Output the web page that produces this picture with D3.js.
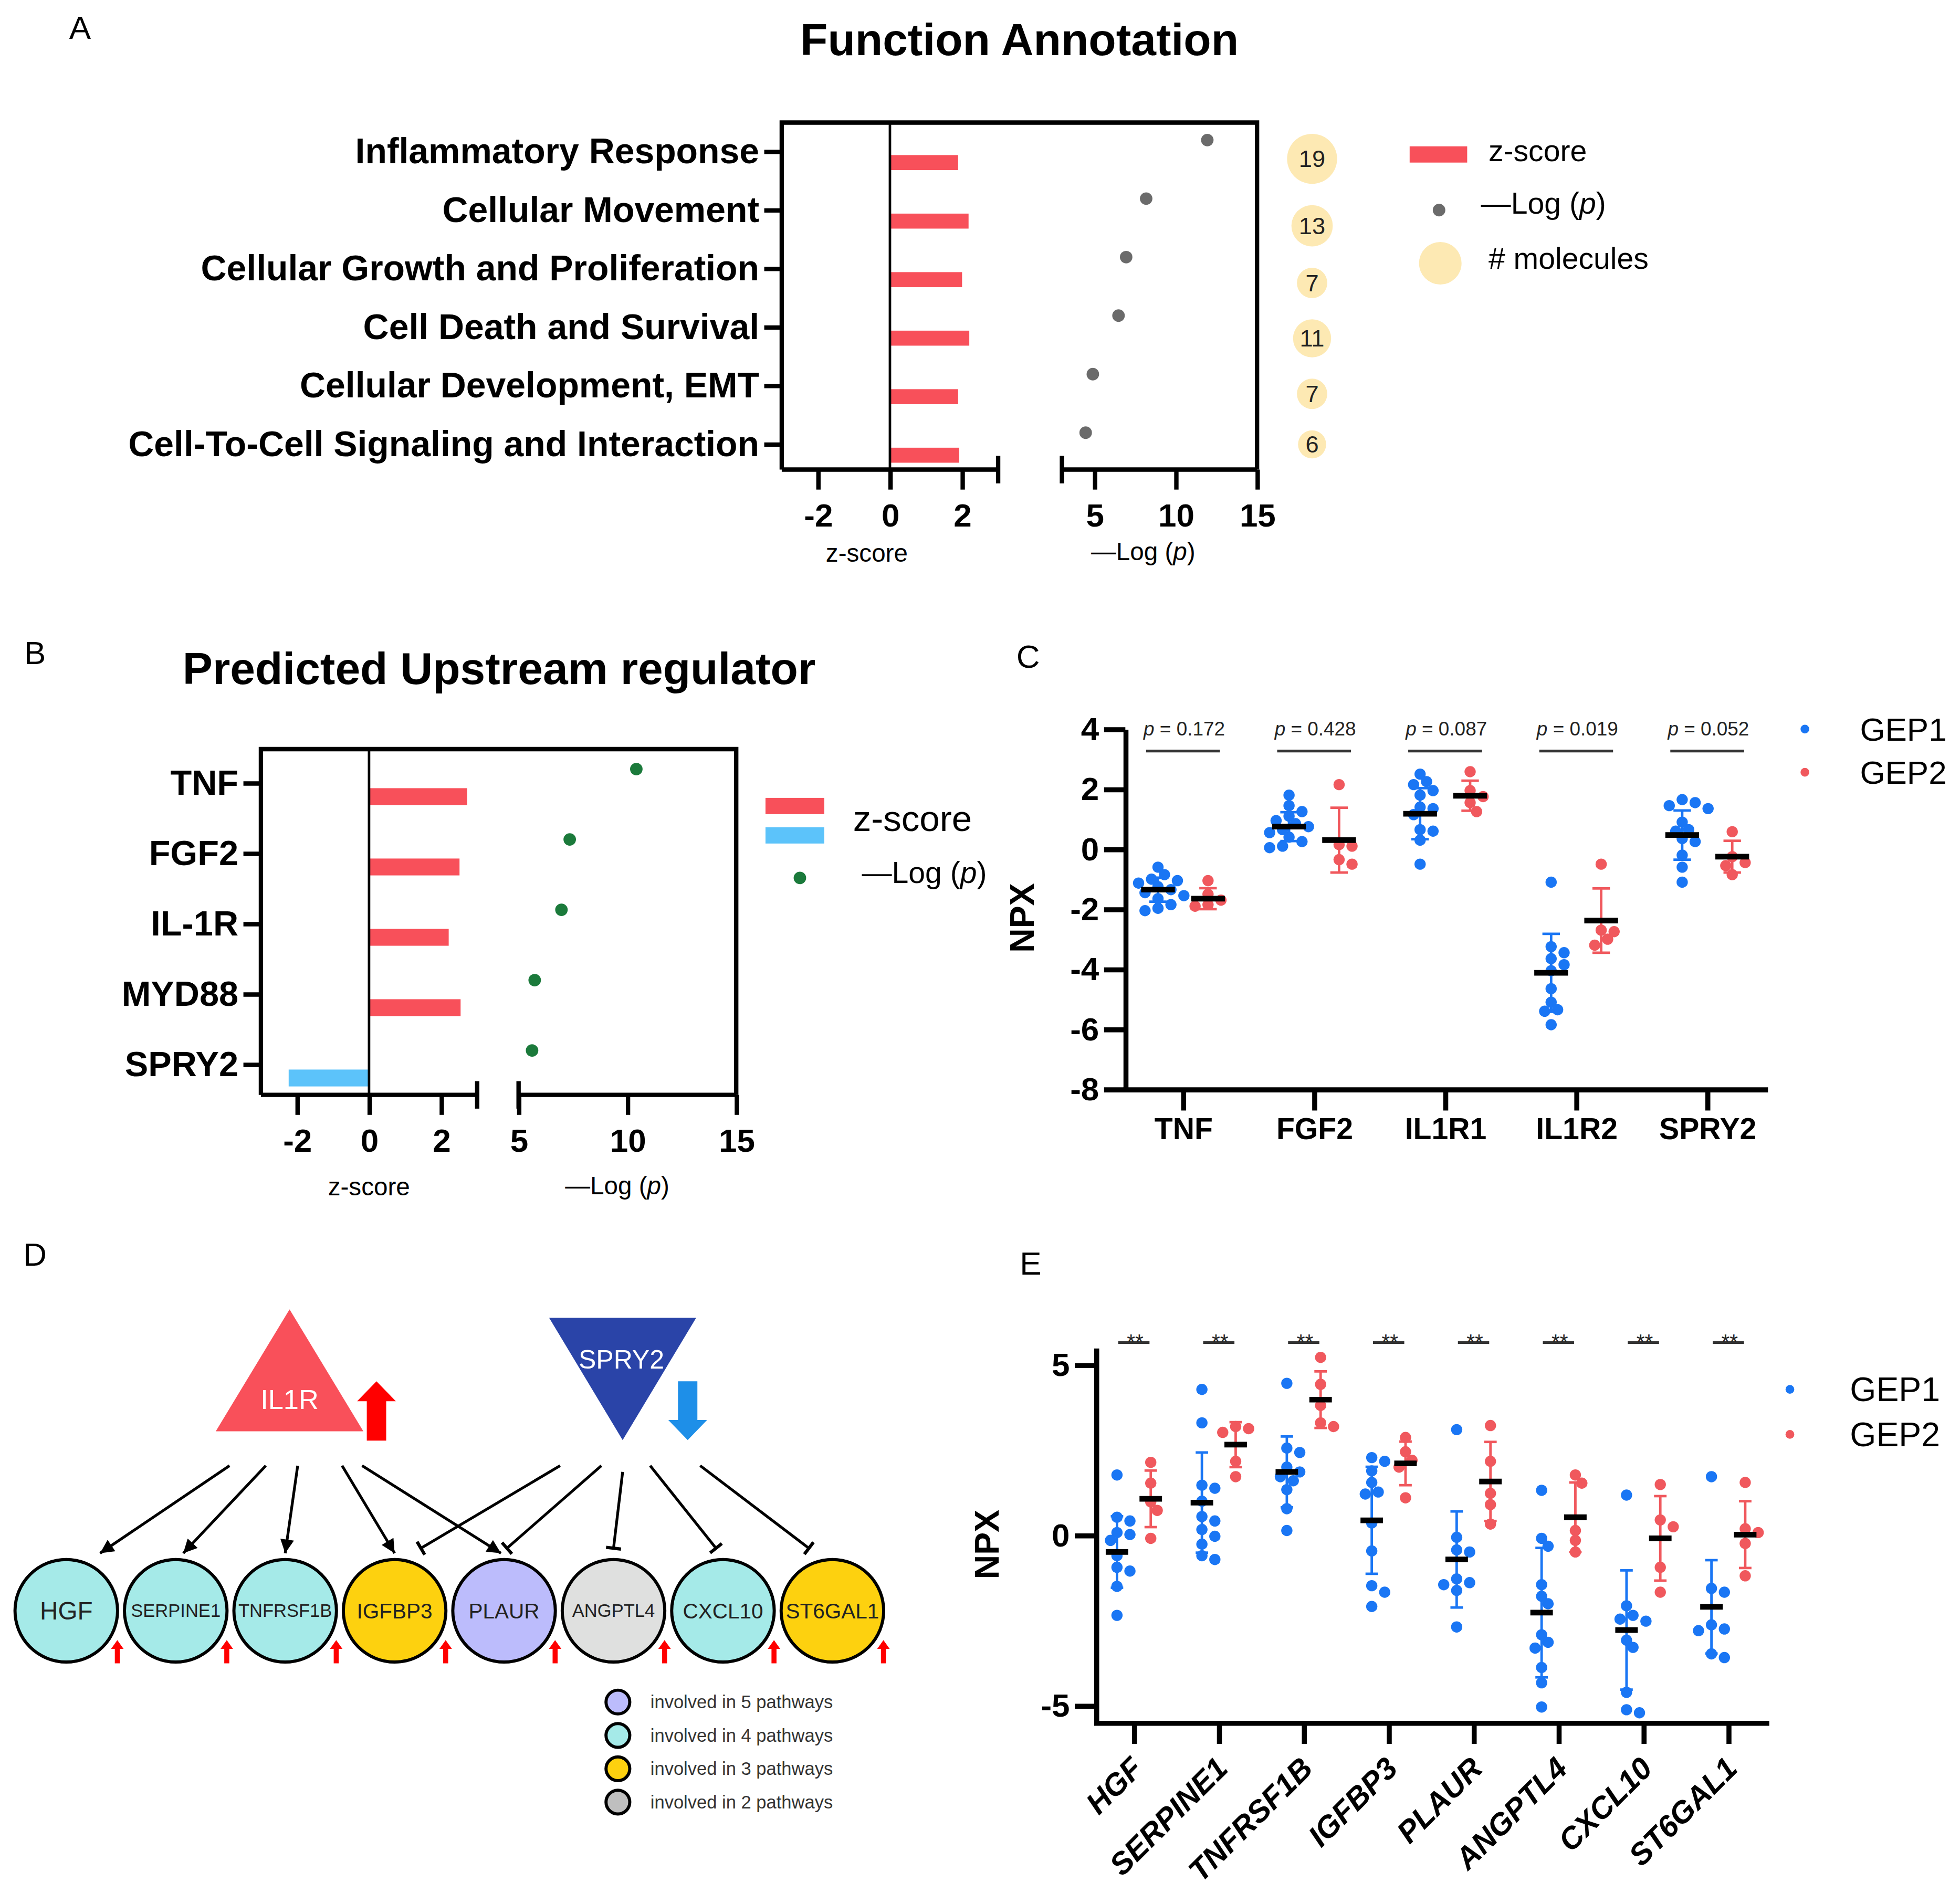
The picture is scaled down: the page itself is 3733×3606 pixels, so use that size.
<!DOCTYPE html>
<html>
<head>
<meta charset="utf-8">
<script src="https://cdn.jsdelivr.net/npm/d3@7"></script>
<style>
  body { margin: 0; background: #fff; }
  svg { display: block; font-family: "Liberation Sans", Arial, Helvetica, sans-serif; }
</style>
</head>
<body>
<svg id="figure"></svg>
<script>
// ---- panel A data
const functionCategories = ["Inflammatory Response", "Cellular Movement", "Cellular Growth and Proliferation",
  "Cell Death and Survival", "Cellular Development, EMT", "Cell-To-Cell Signaling and Interaction"];
const functionZ = [1.89, 2.18, 2.0, 2.2, 1.89, 1.92];
const functionLogP = [11.94, 8.18, 6.95, 6.48, 4.9, 4.46];
const functionMolecules = [19, 13, 7, 11, 7, 6];

// ---- panel B data
const regulatorNames = ["TNF", "FGF2", "IL-1R", "MYD88", "SPRY2"];
const regulatorZ = [2.72, 2.51, 2.21, 2.54, -2.23];
const regulatorLogP = [10.41, 7.35, 6.97, 5.74, 5.62];

// ---- panel C data
const npxGenes = ["TNF", "FGF2", "IL1R1", "IL1R2", "SPRY2"];
const npxPValues = ["0.172", "0.428", "0.087", "0.019", "0.052"];
const npxGep1 = [
  [-0.6, -0.85, -1.0, -1.05, -1.13, -1.25, -1.35, -1.45, -1.55, -1.65, -1.85, -1.97, -2.05],
  [1.8, 1.45, 1.25, 1.1, 0.95, 0.85, 0.75, 0.65, 0.55, 0.4, 0.25, 0.1, 0.05],
  [2.5, 2.25, 2.15, 1.95, 1.8, 1.4, 1.35, 1.15, 0.65, 0.6, 0.3, -0.5],
  [-1.1, -3.25, -3.45, -3.65, -3.85, -4.05, -4.65, -5.1, -5.35, -5.4, -5.85],
  [1.65, 1.55, 1.45, 1.35, 0.9, 0.65, 0.6, 0.35, 0.25, -0.2, -0.6, -1.1]
];
const npxGep2 = [
  [-1.05, -1.5, -1.7, -1.85, -1.9],
  [2.15, 0.15, 0.1, -0.35, -0.5],
  [2.58, 1.95, 1.75, 1.55, 1.25],
  [-0.5, -2.7, -2.75, -3.0, -3.2],
  [0.58, -0.25, -0.45, -0.55, -0.85]
];
const npxGep1Mean = [-1.35, 0.75, 1.18, -4.12, 0.47];
const npxGep1Sd = [0.4, 0.48, 0.85, 1.3, 0.82];
const npxGep2Mean = [-1.65, 0.3, 1.78, -2.38, -0.25];
const npxGep2Sd = [0.35, 1.08, 0.5, 1.07, 0.53];

// ---- panel D data
const targetGenes = ["HGF", "SERPINE1", "TNFRSF1B", "IGFBP3", "PLAUR", "ANGPTL4", "CXCL10", "ST6GAL1"];
const targetPathways = [4, 4, 4, 3, 5, 2, 4, 3];
const il1rTargets = ["HGF", "SERPINE1", "TNFRSF1B", "IGFBP3", "PLAUR"];
const spry2Targets = ["IGFBP3", "PLAUR", "ANGPTL4", "CXCL10", "ST6GAL1"];
const legendPathways = [5, 4, 3, 2];

// ---- panel E data
const markerGenes = ["HGF", "SERPINE1", "TNFRSF1B", "IGFBP3", "PLAUR", "ANGPTL4", "CXCL10", "ST6GAL1"];
const markerGep1 = [
  [1.77, 0.53, 0.42, 0.08, 0.02, -0.15, -0.6, -0.94, -1.05, -1.5, -2.35],
  [4.28, 3.3, 1.47, 1.38, 1.0, 0.55, 0.42, 0.17, -0.03, -0.26, -0.6, -0.71],
  [4.46, 2.56, 2.43, 2.0, 1.86, 1.72, 1.6, 1.34, 0.78, 0.14],
  [2.28, 2.17, 1.89, 1.55, 1.27, 1.21, 0.36, -0.46, -1.48, -1.67, -2.09],
  [3.1, -0.06, -0.43, -0.49, -1.28, -1.39, -1.45, -1.62, -2.69],
  [1.32, -0.09, -0.32, -1.45, -1.79, -2.01, -2.92, -3.14, -3.31, -3.88, -4.33, -5.04],
  [1.18, -2.07, -2.35, -2.46, -2.52, -3.08, -3.29, -4.61, -5.12, -5.21],
  [1.72, -1.56, -1.67, -2.63, -2.75, -2.8, -3.48, -3.59]
];
const markerGep2 = [
  [2.14, 1.53, 0.98, 0.73, -0.09],
  [3.19, 3.13, 3.02, 2.17, 1.72],
  [5.22, 4.43, 3.81, 3.3, 3.19],
  [2.87, 2.45, 2.2, 2.0, 1.1],
  [3.22, 2.17, 1.23, 0.9, 0.33],
  [1.77, 1.53, 0.14, -0.15, -0.49],
  [1.49, 0.45, 0.25, -0.94, -1.67],
  [1.55, 0.19, 0.08, -0.24, -1.19]
];
const markerGep1Mean = [-0.49, 0.96, 1.86, 0.44, -0.71, -2.27, -2.78, -2.1];
const markerGep1Sd = [1.05, 1.47, 1.04, 1.57, 1.41, 1.9, 1.75, 1.37];
const markerGep2Mean = [1.07, 2.66, 3.98, 2.11, 1.58, 0.53, -0.09, 0.02];
const markerGep2Sd = [0.83, 0.66, 0.83, 0.64, 1.16, 1.02, 1.24, 0.98];
const markerSignif = ["**", "**", "**", "**", "**", "**", "**", "**"];

const groupNames = ["GEP1", "GEP2"];

// ---- colours
const RED_BAR = "#f8505a";
const SKY_BAR = "#5cc3fa";
const BLUE = "#1a76f4";
const RED = "#f0585d";
const pathwayColor = { 5: "#bcbcfc", 4: "#a5eae8", 3: "#fdd10f", 2: "#dfe0df" };
const legendPathwayColor = { 5: "#bcbcfc", 4: "#a5eae8", 3: "#fdd10f", 2: "#bfbfbf" };

const W = 3733, H = 3606, S = 3733 / 1567;
const svg = d3.select("#figure")
  .attr("width", W).attr("height", H)
  .attr("viewBox", `0 0 ${W / S} ${H / S}`);

const fmt = d => String(d);

function styleAxis(g, size, weight, stroke) {
  g.attr("font-family", null).attr("font-size", size).attr("font-weight", weight);
  g.selectAll(".tick line").attr("stroke", "#000").attr("stroke-width", stroke);
  g.selectAll(".tick text").attr("fill", "#000");
  g.select(".domain").attr("stroke", "#000").attr("stroke-width", stroke);
}

function logTitle(sel) {
  sel.append("tspan").text("\u2014Log (");
  sel.append("tspan").attr("font-style", "italic").text("p");
  sel.append("tspan").text(")");
}

function panelLetter(letter, x, y) {
  svg.append("text").attr("x", x).attr("y", y).attr("font-size", 26).attr("text-anchor", "middle").text(letter);
}

// beeswarm offsets so points of a group don't sit on top of each other
function swarm(pys, r) {
  const placed = [];
  const step = r * 1.15;
  return pys.map(py => {
    for (let k = 0; k < 14; k++) {
      const dx = (k % 2 ? 1 : -1) * Math.ceil(k / 2) * step;
      if (placed.every(p => Math.hypot(p[0] - dx, p[1] - py) >= r * 1.7)) {
        placed.push([dx, py]);
        return dx;
      }
    }
    placed.push([0, py]);
    return 0;
  });
}

// ---------- A & B: z-score bars + -log(p) dots
function drawEnrichment(o) {
  const g = svg.append("g");
  const xz = d3.scaleLinear().domain([-3, 3]).range(o.zRange);
  const xp = d3.scaleLinear().domain(o.pDomain).range(o.pRange);
  const y = d3.scalePoint().domain(o.categories).range(o.yRange);
  const left = o.zRange[0], right = o.pRange[1];

  g.append("text").attr("x", o.titleX).attr("y", o.titleY).attr("text-anchor", "middle")
    .attr("font-size", 36).attr("font-weight", "bold").text(o.title);

  g.append("path")
    .attr("d", `M${left},${o.bottom}V${o.top}H${right}V${o.bottom}`)
    .attr("fill", "none").attr("stroke", "#000").attr("stroke-width", 3.5);

  const axZ = g.append("g").attr("transform", `translate(0,${o.bottom})`)
    .call(d3.axisBottom(xz).tickValues([-2, 0, 2]).tickFormat(fmt).tickSize(o.tickLen).tickPadding(o.tickPad))
    .call(styleAxis, 26, "bold", 3.5);
  axZ.select(".domain").remove();
  const axP = g.append("g").attr("transform", `translate(0,${o.bottom})`)
    .call(d3.axisBottom(xp).tickValues([5, 10, 15]).tickFormat(fmt).tickSize(o.tickLen).tickPadding(o.tickPad))
    .call(styleAxis, 26, "bold", 3.5);
  axP.select(".domain").remove();

  [[xz.range()[0], xz.range()[1]], [xp.range()[0], xp.range()[1]]].forEach(r => {
    g.append("line").attr("x1", r[0]).attr("x2", r[1]).attr("y1", o.bottom).attr("y2", o.bottom)
      .attr("stroke", "#000").attr("stroke-width", 3.5);
  });
  [xz(3), xp(o.pDomain[0])].forEach(cx => {
    g.append("line").attr("x1", cx).attr("x2", cx).attr("y1", o.bottom - 11).attr("y2", o.bottom + 11)
      .attr("stroke", "#000").attr("stroke-width", 3.5);
  });

  const axY = g.append("g").attr("transform", `translate(${left},0)`)
    .call(d3.axisLeft(y).tickSize(14).tickPadding(4))
    .call(styleAxis, o.labelSize, "bold", 3.5);
  axY.select(".domain").remove();

  g.selectAll(".zbar").data(o.categories).join("rect")
    .attr("x", (d, i) => Math.min(xz(0), xz(o.z[i])))
    .attr("width", (d, i) => Math.abs(xz(o.z[i]) - xz(0)))
    .attr("y", d => y(d) + o.barOffset - o.barH / 2)
    .attr("height", o.barH)
    .attr("fill", (d, i) => o.z[i] >= 0 ? RED_BAR : SKY_BAR);

  g.append("line").attr("x1", xz(0)).attr("x2", xz(0)).attr("y1", o.top).attr("y2", o.bottom)
    .attr("stroke", "#000").attr("stroke-width", 2);

  g.selectAll(".pdot").data(o.categories).join("circle")
    .attr("cx", (d, i) => xp(o.logp[i]))
    .attr("cy", d => y(d) + o.dotOffset)
    .attr("r", 5)
    .attr("fill", o.dotColor);

  g.append("text").attr("x", o.zTitle[0]).attr("y", o.zTitle[1]).attr("text-anchor", "middle")
    .attr("font-size", 20).text("z-score");
  g.append("text").attr("x", o.pTitle[0]).attr("y", o.pTitle[1]).attr("text-anchor", "middle")
    .attr("font-size", 20).call(logTitle);
  return { y };
}

// ---------- C & E: NPX scatter with mean ± SD
function drawNpx(o) {
  const g = svg.append("g");
  const x = d3.scalePoint().domain(o.genes).range(o.xRange).padding(o.padding);
  const y = d3.scaleLinear().domain(o.yDomain).range(o.yRange);

  g.append("g").attr("transform", `translate(${o.xRange[0]},0)`)
    .call(d3.axisLeft(y).tickValues(o.yTicks).tickFormat(fmt).tickSize(17).tickPadding(4).tickSizeOuter(0))
    .call(styleAxis, 26, "bold", 4);
  const xa = g.append("g").attr("transform", `translate(0,${o.yRange[0]})`)
    .call(d3.axisBottom(x).tickSize(17).tickPadding(6).tickSizeOuter(0))
    .call(styleAxis, o.xLabelSize, "bold", 4);
  xa.select(".domain").attr("stroke-linecap", "square");
  if (o.rotate) {
    xa.selectAll(".tick text")
      .attr("x", 0).attr("y", 0).attr("dy", "0.35em")
      .attr("text-anchor", "end").attr("font-style", "italic")
      .attr("transform", `translate(${o.rotate[0]},${o.rotate[1]}) rotate(-45)`);
  }

  g.append("text")
    .attr("transform", `translate(${o.npxPos[0]},${o.npxPos[1]}) rotate(-90)`)
    .attr("text-anchor", "middle").attr("dy", "0.35em")
    .attr("font-size", 27).attr("font-weight", "bold").text("NPX");

  const groups = [
    { vals: o.gep1, mean: o.mean1, sd: o.sd1, dx: -o.offset, color: BLUE },
    { vals: o.gep2, mean: o.mean2, sd: o.sd2, dx: o.offset, color: RED }
  ];
  groups.forEach(grp => {
    o.genes.forEach((gene, i) => {
      const cx = x(gene) + grp.dx;
      const vals = grp.vals[i];
      const offs = swarm(vals.map(v => y(v)), o.r);
      const gg = g.append("g");
      gg.selectAll("circle").data(vals).join("circle")
        .attr("cx", (v, j) => cx + offs[j])
        .attr("cy", v => y(v))
        .attr("r", o.r)
        .attr("fill", grp.color);
      const hi = y(grp.mean[i] + grp.sd[i]), lo = y(grp.mean[i] - grp.sd[i]);
      gg.append("line").attr("x1", cx).attr("x2", cx).attr("y1", hi).attr("y2", lo)
        .attr("stroke", grp.color).attr("stroke-width", 2);
      [hi, lo].forEach(yy => gg.append("line")
        .attr("x1", cx - o.capHalf).attr("x2", cx + o.capHalf).attr("y1", yy).attr("y2", yy)
        .attr("stroke", grp.color).attr("stroke-width", 2));
      gg.append("line")
        .attr("x1", cx - o.meanHalf).attr("x2", cx + o.meanHalf)
        .attr("y1", y(grp.mean[i])).attr("y2", y(grp.mean[i]))
        .attr("stroke", "#000").attr("stroke-width", 4.5);
    });
  });

  // comparison brackets
  o.genes.forEach((gene, i) => {
    g.append("line").attr("x1", x(gene) - o.bracketHalf).attr("x2", x(gene) + o.bracketHalf)
      .attr("y1", o.bracketY).attr("y2", o.bracketY)
      .attr("stroke", "#333").attr("stroke-width", 2.2);
    const t = g.append("text").attr("x", x(gene) + 1).attr("y", o.labelY)
      .attr("text-anchor", "middle").attr("font-size", o.labelSize).attr("fill", "#222");
    if (o.pValues) {
      t.append("tspan").attr("font-style", "italic").text("p");
      t.append("tspan").text(" = " + o.pValues[i]);
    } else {
      t.text(o.signif[i]);
    }
  });

  // legend
  const ly = d3.scalePoint().domain(groupNames).range(o.legendY);
  groupNames.forEach((name, k) => {
    g.append("circle").attr("cx", o.legendX[0]).attr("cy", ly(name)).attr("r", 3.5)
      .attr("fill", k === 0 ? BLUE : RED);
    g.append("text").attr("x", o.legendX[1]).attr("y", ly(name)).attr("dy", "0.35em")
      .attr("font-size", o.legendSize).text(name);
  });
}

// ---------- D: regulator network
function arrowPath(cx, top, bottom, shaftW, headW, headH, up) {
  const p = d3.path();
  if (up) {
    p.moveTo(cx, top);
    p.lineTo(cx + headW / 2, top + headH);
    p.lineTo(cx + shaftW / 2, top + headH);
    p.lineTo(cx + shaftW / 2, bottom);
    p.lineTo(cx - shaftW / 2, bottom);
    p.lineTo(cx - shaftW / 2, top + headH);
    p.lineTo(cx - headW / 2, top + headH);
  } else {
    p.moveTo(cx, bottom);
    p.lineTo(cx + headW / 2, bottom - headH);
    p.lineTo(cx + shaftW / 2, bottom - headH);
    p.lineTo(cx + shaftW / 2, top);
    p.lineTo(cx - shaftW / 2, top);
    p.lineTo(cx - shaftW / 2, bottom - headH);
    p.lineTo(cx - headW / 2, bottom - headH);
  }
  p.closePath();
  return p.toString();
}

function drawNetwork() {
  const g = svg.append("g");
  const x = d3.scalePoint().domain(targetGenes).range([53, 665.5]);
  const nodeY = 1288, nodeR = 41;

  g.append("defs").append("marker")
    .attr("id", "arrowhead").attr("viewBox", "0 0 10 10")
    .attr("refX", 10).attr("refY", 5)
    .attr("markerWidth", 14).attr("markerHeight", 11)
    .attr("markerUnits", "userSpaceOnUse").attr("orient", "auto")
    .append("path").attr("d", "M0,0L10,5L0,10z").attr("fill", "#000");

  // regulators
  const il1r = { cx: 231.5, top: 1047, base: 1144.5, half: 59 };
  g.append("path")
    .attr("d", `M${il1r.cx},${il1r.top}L${il1r.cx + il1r.half},${il1r.base}L${il1r.cx - il1r.half},${il1r.base}Z`)
    .attr("fill", "#f9505a");
  g.append("text").attr("x", il1r.cx).attr("y", 1119).attr("dy", "0.35em").attr("text-anchor", "middle")
    .attr("font-size", 22).attr("fill", "#fff").text("IL1R");
  g.append("path").attr("d", arrowPath(301, 1104.5, 1152, 15.5, 31, 16, true)).attr("fill", "#ff0000");

  const spry = { cx: 497.8, top: 1053.7, apex: 1151.5, half: 58.8 };
  g.append("path")
    .attr("d", `M${spry.cx - spry.half},${spry.top}L${spry.cx + spry.half},${spry.top}L${spry.cx},${spry.apex}Z`)
    .attr("fill", "#2a44a8");
  g.append("text").attr("x", spry.cx - 1).attr("y", 1087).attr("dy", "0.35em").attr("text-anchor", "middle")
    .attr("font-size", 21).attr("fill", "#fff").text("SPRY2");
  g.append("path").attr("d", arrowPath(549.8, 1104.5, 1151.5, 15.5, 31, 16, false)).attr("fill", "#1e8fe8");

  // activation edges from IL1R
  const il1rStart = [-48, -19, 6.5, 42, 58];
  const il1rEnd = [27, 6, 0, 0, -2.5];
  il1rTargets.forEach((t, i) => {
    g.append("line")
      .attr("x1", il1r.cx + il1rStart[i]).attr("y1", 1172)
      .attr("x2", x(t) + il1rEnd[i]).attr("y2", 1242)
      .attr("stroke", "#000").attr("stroke-width", 2.2)
      .attr("marker-end", "url(#arrowhead)");
  });
  // inhibition edges from SPRY2
  const spryStart = [-50, -17, 0, 22, 62];
  const spryEnd = [21, 2.3, 0, -5.6, -18.8];
  spry2Targets.forEach((t, i) => {
    const x1 = spry.cx + spryStart[i], y1 = i === 2 ? 1177 : 1172;
    const x2 = x(t) + spryEnd[i], y2 = 1238;
    g.append("line").attr("x1", x1).attr("y1", y1).attr("x2", x2).attr("y2", y2)
      .attr("stroke", "#000").attr("stroke-width", 2.2);
    const len = Math.hypot(x2 - x1, y2 - y1);
    const nx = -(y2 - y1) / len, ny = (x2 - x1) / len;
    g.append("line")
      .attr("x1", x2 - nx * 6).attr("y1", y2 - ny * 6)
      .attr("x2", x2 + nx * 6).attr("y2", y2 + ny * 6)
      .attr("stroke", "#000").attr("stroke-width", 2.6);
  });

  // target nodes
  targetGenes.forEach((gene, i) => {
    g.append("circle").attr("cx", x(gene)).attr("cy", nodeY).attr("r", nodeR)
      .attr("fill", pathwayColor[targetPathways[i]]).attr("stroke", "#000").attr("stroke-width", 2.5);
    const fs = gene.length > 7 ? 14.5 : gene.length > 6 ? (gene === "ANGPTL4" ? 14.5 : 17) : (gene.length <= 3 ? 20 : 17);
    g.append("text").attr("x", x(gene)).attr("y", nodeY).attr("dy", "0.35em").attr("text-anchor", "middle")
      .attr("font-size", fs).attr("fill", "#222").text(gene);
  });
  targetGenes.forEach(gene => {
    g.append("path").attr("d", arrowPath(x(gene) + 40.8, 1311.5, 1330, 4, 10, 7, true)).attr("fill", "#ff0000");
  });

  // legend
  const ly = d3.scalePoint().domain(legendPathways).range([1361, 1441]);
  legendPathways.forEach(n => {
    g.append("circle").attr("cx", 494).attr("cy", ly(n)).attr("r", 9.5)
      .attr("fill", legendPathwayColor[n]).attr("stroke", "#000").attr("stroke-width", 2.5);
    g.append("text").attr("x", 520).attr("y", ly(n)).attr("dy", "0.35em")
      .attr("font-size", 14.5).attr("fill", "#333").text(`involved in ${n} pathways`);
  });
}

// ---------- draw
panelLetter("A", 64, 31);
drawEnrichment({
  title: "Function Annotation", titleX: 815, titleY: 44,
  categories: functionCategories, z: functionZ, logp: functionLogP,
  zRange: [625, 798], pDomain: [3, 15], pRange: [849, 1005],
  yRange: [121, 355], top: 98, bottom: 375.5,
  barOffset: 9, barH: 12, dotOffset: -9, dotColor: "#6b6b6b",
  labelSize: 28.5, tickLen: 16, tickPad: 11,
  zTitle: [693, 449], pTitle: [914, 448]
});
// bubbles: number of molecules, stacked in a column
const rMol = d3.scaleSqrt().domain([0, 19]).range([0, 20]);
let bubbleY = 127;
functionMolecules.forEach((n, i) => {
  if (i > 0) bubbleY += rMol(functionMolecules[i - 1]) + rMol(n) + 17;
  svg.append("circle").attr("cx", 1049).attr("cy", bubbleY).attr("r", rMol(n)).attr("fill", "#fde9b3");
  svg.append("text").attr("x", 1049).attr("y", bubbleY).attr("dy", "0.35em").attr("text-anchor", "middle")
    .attr("font-size", 19).attr("fill", "#222").text(n);
});
// legend A
svg.append("rect").attr("x", 1127).attr("y", 117).attr("width", 46).attr("height", 13).attr("fill", RED_BAR);
svg.append("text").attr("x", 1190).attr("y", 120.5).attr("dy", "0.35em").attr("font-size", 24).text("z-score");
svg.append("circle").attr("cx", 1150.5).attr("cy", 168).attr("r", 5).attr("fill", "#6b6b6b");
svg.append("text").attr("x", 1184).attr("y", 162.5).attr("dy", "0.35em").attr("font-size", 24).call(logTitle);
svg.append("circle").attr("cx", 1151.5).attr("cy", 210.5).attr("r", 17).attr("fill", "#fde9b3");
svg.append("text").attr("x", 1190).attr("y", 206.5).attr("dy", "0.35em").attr("font-size", 24).text("# molecules");

panelLetter("B", 28, 531);
drawEnrichment({
  title: "Predicted Upstream regulator", titleX: 399, titleY: 547,
  categories: regulatorNames, z: regulatorZ, logp: regulatorLogP,
  zRange: [208.6, 381.5], pDomain: [5, 15], pRange: [414.6, 588.6],
  yRange: [626, 851], top: 599, bottom: 875.5,
  barOffset: 11, barH: 13.5, dotOffset: -11, dotColor: "#1b7a3b",
  labelSize: 28, tickLen: 16, tickPad: 11,
  zTitle: [295, 956], pTitle: [493.5, 955]
});
// legend B
svg.append("rect").attr("x", 612).attr("y", 638).attr("width", 47).attr("height", 13).attr("fill", RED_BAR);
svg.append("rect").attr("x", 612).attr("y", 661.5).attr("width", 47).attr("height", 13).attr("fill", SKY_BAR);
svg.append("text").attr("x", 682).attr("y", 654.5).attr("dy", "0.35em").attr("font-size", 29).text("z-score");
svg.append("circle").attr("cx", 639.5).attr("cy", 702).attr("r", 5).attr("fill", "#1b7a3b");
svg.append("text").attr("x", 689).attr("y", 697.5).attr("dy", "0.35em").attr("font-size", 24).call(logTitle);

panelLetter("C", 822, 534);
drawNpx({
  genes: npxGenes, gep1: npxGep1, gep2: npxGep2,
  mean1: npxGep1Mean, sd1: npxGep1Sd, mean2: npxGep2Mean, sd2: npxGep2Sd,
  xRange: [899.7, 1411], padding: 0.44, yDomain: [-8, 4], yRange: [871, 583],
  yTicks: [-8, -6, -4, -2, 0, 2, 4], xLabelSize: 24,
  offset: 20, r: 4.5, meanHalf: 13.5, capHalf: 7,
  npxPos: [817, 734],
  pValues: npxPValues, bracketY: 600.5, bracketHalf: 29.5, labelY: 588, labelSize: 15.5,
  legendX: [1443, 1487], legendY: [583, 617.5], legendSize: 26
});

panelLetter("D", 28, 1012);
drawNetwork();

panelLetter("E", 824, 1019);
drawNpx({
  genes: markerGenes, gep1: markerGep1, gep2: markerGep2,
  mean1: markerGep1Mean, sd1: markerGep1Sd, mean2: markerGep2Mean, sd2: markerGep2Sd,
  xRange: [876.3, 1412], padding: 0.445, yDomain: [-5.5, 5.5], yRange: [1377.5, 1077.8],
  yTicks: [-5, 0, 5], xLabelSize: 24.5, rotate: [2, 32],
  offset: 13.5, r: 4.5, meanHalf: 9, capHalf: 5,
  npxPos: [789, 1235],
  signif: markerSignif, bracketY: 1073.5, bracketHalf: 12.5, labelY: 1079, labelSize: 17,
  legendX: [1431, 1479], legendY: [1111, 1147], legendSize: 27
});
</script>
</body>
</html>
